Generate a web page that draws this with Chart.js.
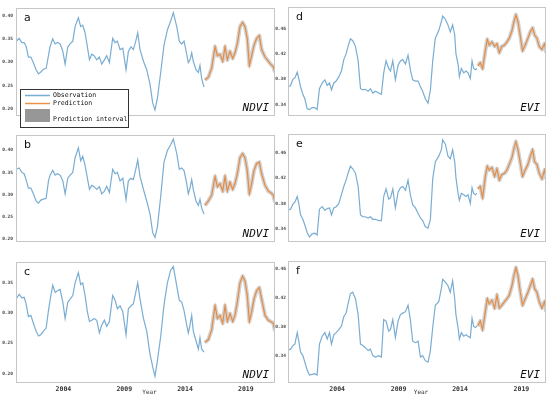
<!DOCTYPE html>
<html>
<head>
<meta charset="utf-8">
<script src="https://cdn.jsdelivr.net/npm/chart.js@4/dist/chart.umd.min.js"></script>
<style>
  body { margin: 0; background: #fff; width: 550px; height: 397px; position: relative; overflow: hidden; }
  canvas { position: absolute; }
</style>
</head>
<body>
<script>
// ---- data ----
const leftObsYears = [2000.11,2000.36,2000.58,2000.77,2000.93,2001.12,2001.32,2001.53,2001.75,2001.95,
  2002.14,2002.36,2002.58,2002.77,2002.90,2003.12,2003.32,2003.51,2003.73,2003.95,
  2004.14,2004.36,2004.55,2004.77,2004.96,2005.23,2005.42,2005.59,2005.78,2005.97,
  2006.14,2006.33,2006.52,2006.74,2006.96,2007.15,2007.37,2007.56,2007.78,2008.05,
  2008.25,2008.44,2008.66,2008.88,2009.15,2009.34,2009.56,2009.75,2009.95,2010.11,
  2010.30,2010.58,2010.85,2011.12,2011.34,2011.53,2011.73,2012.00,2012.27,2012.55,
  2012.82,2013.04,2013.32,2013.53,2013.73,2013.92,2014.14,2014.27,2014.41,2014.55,
  2014.68,2014.90,2015.10,2015.23,2015.37,2015.56];
const leftPredYears = [2015.64,2015.92,2016.19,2016.47,2016.66,2016.88,2017.10,2017.29,2017.48,2017.70,
  2017.92,2018.11,2018.30,2018.52,2018.74,2018.93,2019.12,2019.29,2019.48,2019.67,
  2019.89,2020.11,2020.30,2020.58,2020.85,2021.04,2021.26,2021.40];

const ndviA_obs = [0.344,0.351,0.342,0.342,0.334,0.311,0.311,0.299,0.284,0.275,
  0.279,0.285,0.287,0.314,0.333,0.350,0.339,0.342,0.339,0.323,
  0.296,0.333,0.339,0.345,0.376,0.395,0.376,0.379,0.363,0.333,
  0.305,0.317,0.314,0.305,0.311,0.296,0.305,0.314,0.299,0.351,
  0.342,0.345,0.327,0.330,0.284,0.323,0.333,0.327,0.345,0.363,
  0.327,0.302,0.284,0.253,0.213,0.198,0.223,0.278,0.336,0.369,
  0.388,0.406,0.376,0.345,0.339,0.345,0.317,0.299,0.305,0.320,
  0.302,0.284,0.278,0.293,0.265,0.247];
const ndviA_pred = [0.262,0.268,0.287,0.333,0.314,0.317,0.302,0.333,0.305,0.323,0.308,0.320,0.339,0.376,
  0.385,0.376,0.351,0.293,0.314,0.336,0.351,0.357,0.327,0.311,0.302,0.296,0.290,0.278];

const ndviB_obs = [0.357,0.360,0.350,0.347,0.334,0.315,0.315,0.302,0.286,0.281,
  0.288,0.290,0.292,0.331,0.344,0.355,0.344,0.347,0.344,0.331,
  0.302,0.337,0.344,0.350,0.383,0.405,0.376,0.386,0.366,0.337,
  0.312,0.321,0.318,0.312,0.318,0.302,0.308,0.319,0.305,0.357,
  0.347,0.350,0.331,0.337,0.289,0.331,0.337,0.334,0.357,0.378,
  0.341,0.312,0.286,0.257,0.215,0.204,0.228,0.296,0.373,0.399,
  0.412,0.425,0.392,0.357,0.360,0.354,0.325,0.302,0.315,0.334,
  0.312,0.286,0.276,0.290,0.270,0.257];
const ndviB_pred = [0.276,0.286,0.299,0.341,0.318,0.325,0.308,0.341,0.308,0.328,0.312,0.325,0.347,0.383,
  0.392,0.383,0.354,0.302,0.325,0.354,0.370,0.373,0.347,0.321,0.308,0.305,0.299,0.283];

const ndviC_obs = [0.323,0.331,0.325,0.326,0.315,0.294,0.296,0.283,0.270,0.262,
  0.264,0.270,0.275,0.304,0.321,0.346,0.334,0.337,0.339,0.318,
  0.291,0.318,0.323,0.329,0.350,0.367,0.347,0.350,0.329,0.302,
  0.286,0.288,0.291,0.288,0.267,0.280,0.288,0.278,0.286,0.329,
  0.321,0.307,0.312,0.302,0.264,0.307,0.312,0.315,0.334,0.350,
  0.323,0.291,0.270,0.232,0.211,0.195,0.221,0.261,0.313,0.350,
  0.371,0.377,0.345,0.321,0.318,0.304,0.280,0.267,0.280,0.296,
  0.270,0.254,0.240,0.259,0.240,0.235];
const ndviC_pred = [0.251,0.256,0.272,0.312,0.291,0.296,0.283,0.312,0.286,0.299,0.286,0.296,0.318,0.350,
  0.361,0.353,0.329,0.286,0.302,0.323,0.337,0.342,0.323,0.296,0.288,0.286,0.283,0.270];

const rightObsYears = [2000.02,2000.21,2000.40,2000.56,2000.75,2000.88,2001.02,2001.21,2001.37,2001.56,
  2001.75,2001.97,2002.18,2002.37,2002.56,2002.78,2003.00,2003.19,2003.38,2003.54,
  2003.73,2003.92,2004.14,2004.35,2004.54,2004.73,2004.89,2005.08,2005.27,2005.49,
  2005.71,2005.90,2006.09,2006.30,2006.52,2006.71,2006.90,2007.12,2007.39,2007.60,
  2007.79,2007.98,2008.20,2008.34,2008.53,2008.74,2008.96,2009.15,2009.34,2009.56,
  2009.77,2009.96,2010.15,2010.37,2010.59,2010.78,2010.96,2011.18,2011.40,2011.59,
  2011.78,2011.99,2012.27,2012.48,2012.59,2012.81,2013.02,2013.21,2013.40,2013.57,
  2013.67,2013.84,2013.95,2014.11,2014.30,2014.49,2014.65,2014.84,2014.98,2015.11,
  2015.25,2015.38];
const rightPredYears = [2015.46,2015.65,2015.84,2016.06,2016.22,2016.38,2016.60,2016.82,2017.01,2017.20,
  2017.41,2017.63,2017.82,2018.01,2018.23,2018.39,2018.55,2018.72,2018.91,2019.09,
  2019.31,2019.53,2019.72,2019.91,2020.07,2020.26,2020.45,2020.67,2020.88,2021.02];

const eviD_obs = [0.368,0.370,0.380,0.382,0.391,0.381,0.368,0.356,0.349,0.333,
  0.332,0.335,0.335,0.332,0.365,0.374,0.379,0.370,0.374,0.363,
  0.374,0.377,0.384,0.393,0.411,0.420,0.432,0.444,0.441,0.432,
  0.409,0.365,0.363,0.364,0.361,0.365,0.358,0.361,0.358,0.356,
  0.390,0.409,0.397,0.393,0.409,0.379,0.402,0.409,0.411,0.404,
  0.418,0.395,0.379,0.377,0.377,0.368,0.361,0.349,0.342,0.363,
  0.409,0.445,0.457,0.471,0.480,0.475,0.466,0.455,0.466,0.450,
  0.420,0.404,0.384,0.397,0.390,0.393,0.390,0.381,0.409,0.397,
  0.395,0.397];
const eviD_pred = [0.401,0.406,0.397,0.425,0.443,0.434,0.439,0.432,0.436,0.422,0.432,0.434,0.439,0.445,0.457,
  0.471,0.482,0.471,0.448,0.425,0.434,0.445,0.455,0.461,0.450,0.445,0.432,0.427,0.436,0.422];

const eviE_obs = [0.370,0.371,0.379,0.382,0.391,0.380,0.362,0.355,0.346,0.334,
  0.327,0.332,0.333,0.330,0.371,0.375,0.369,0.372,0.373,0.362,
  0.373,0.375,0.380,0.394,0.407,0.417,0.428,0.439,0.435,0.428,
  0.407,0.362,0.359,0.359,0.357,0.359,0.355,0.355,0.353,0.353,
  0.391,0.403,0.387,0.389,0.403,0.373,0.398,0.405,0.407,0.401,
  0.417,0.394,0.378,0.373,0.364,0.357,0.353,0.343,0.341,0.355,
  0.419,0.446,0.455,0.465,0.481,0.474,0.455,0.451,0.465,0.446,
  0.421,0.396,0.385,0.396,0.394,0.391,0.394,0.380,0.405,0.396,
  0.394,0.396];
const eviE_pred = [0.403,0.407,0.389,0.423,0.439,0.433,0.437,0.423,0.435,0.417,0.426,0.428,0.433,0.442,0.453,
  0.467,0.478,0.465,0.444,0.423,0.433,0.442,0.455,0.465,0.446,0.442,0.428,0.419,0.433,0.419];

const eviF_obs = [0.348,0.349,0.354,0.356,0.372,0.360,0.345,0.340,0.331,0.320,
  0.313,0.314,0.315,0.313,0.356,0.367,0.372,0.363,0.372,0.356,
  0.369,0.372,0.376,0.381,0.394,0.399,0.412,0.426,0.428,0.419,
  0.397,0.356,0.354,0.351,0.347,0.349,0.340,0.338,0.340,0.338,
  0.390,0.388,0.374,0.376,0.390,0.365,0.388,0.397,0.399,0.401,
  0.410,0.390,0.360,0.358,0.360,0.338,0.340,0.333,0.331,0.347,
  0.379,0.410,0.415,0.433,0.446,0.442,0.437,0.428,0.444,0.419,
  0.397,0.379,0.363,0.372,0.367,0.369,0.367,0.365,0.392,0.381,
  0.379,0.381];
const eviF_pred = [0.381,0.388,0.376,0.401,0.419,0.412,0.417,0.406,0.424,0.406,0.410,0.415,0.419,0.424,0.437,
  0.451,0.462,0.451,0.428,0.410,0.419,0.428,0.437,0.446,0.433,0.428,0.415,0.406,0.415,0.401];

const yearTicks = [2004, 2009, 2014, 2019];
const ndviTicks = [0.20, 0.25, 0.30, 0.35, 0.40];
const eviTicks = [0.34, 0.38, 0.42, 0.46];

// ---- layout ----
const colGeom = [
  { areaLeft: 16, areaRight: 275, axisW: 16, xMin: 2000.1, xMax: 2021.4, obsYears: leftObsYears, predYears: leftPredYears },
  { areaLeft: 288, areaRight: 546, axisW: 13, xMin: 2000.0, xMax: 2021.0, obsYears: rightObsYears, predYears: rightPredYears },
];
const rowGeom = [
  { top: 4, bottom: 130 },
  { top: 131, bottom: 256 },
  { top: 258, bottom: 383 },
];

const panels = [
  { letter: "a", col: 0, row: 0, obs: ndviA_obs, pred: ndviA_pred, yMin: 0.185, yMax: 0.4165, ticks: ndviTicks, index: "NDVI", legend: true },
  { letter: "b", col: 0, row: 1, obs: ndviB_obs, pred: ndviB_pred, yMin: 0.194, yMax: 0.4346, ticks: ndviTicks, index: "NDVI" },
  { letter: "c", col: 0, row: 2, obs: ndviC_obs, pred: ndviC_pred, yMin: 0.184, yMax: 0.385, ticks: ndviTicks, index: "NDVI" },
  { letter: "d", col: 1, row: 0, obs: eviD_obs, pred: eviD_pred, yMin: 0.3217, yMax: 0.4948, ticks: eviTicks, index: "EVI" },
  { letter: "e", col: 1, row: 1, obs: eviE_obs, pred: eviE_pred, yMin: 0.319, yMax: 0.4906, ticks: eviTicks, index: "EVI" },
  { letter: "f", col: 1, row: 2, obs: eviF_obs, pred: eviF_pred, yMin: 0.302, yMax: 0.4718, ticks: eviTicks, index: "EVI" },
];

const obsColor = "rgba(31,119,180,0.6)";
const predColor = "rgba(232,128,45,0.85)";
const bandColor = "rgba(125,125,125,0.35)";
const mono = '"DejaVu Sans Mono", monospace';

const decoPlugin = {
  id: "deco",
  afterDraw(chart, args, opts) {
    const { ctx, chartArea: a } = chart;
    ctx.save();
    // frame
    ctx.strokeStyle = "#c6c6c6";
    ctx.lineWidth = 1;
    ctx.strokeRect(Math.round(a.left) + 0.5, Math.round(a.top) + 0.5,
      Math.round(a.right - a.left) - 1, Math.round(a.bottom - a.top) - 1);
    // panel letter
    ctx.fillStyle = "#111";
    ctx.font = '11px "DejaVu Sans", sans-serif';
    ctx.textAlign = "left";
    ctx.textBaseline = "alphabetic";
    ctx.fillText(opts.letter, a.left + 8, a.top + 13.5);
    // index name
    ctx.font = "italic 11px " + mono;
    ctx.textAlign = "right";
    ctx.fillText(opts.index, a.right - 6, a.bottom - 5);
    // axis title on the bottom row
    if (opts.showYear) {
      ctx.font = "6px " + mono;
      ctx.fillStyle = "#333";
      ctx.textAlign = "center";
      ctx.textBaseline = "middle";
      ctx.fillText("Year", (a.left + a.right) / 2 + 4, a.bottom + 9);
    }
    if (opts.legend) {
      ctx.fillStyle = "#fff";
      ctx.fillRect(20.5, 87.5, 108, 38);
      ctx.strokeStyle = "#333";
      ctx.strokeRect(20.5, 87.5, 108, 38);
      ctx.lineWidth = 1.5;
      ctx.strokeStyle = obsColor;
      ctx.beginPath(); ctx.moveTo(25, 93.5); ctx.lineTo(50, 93.5); ctx.stroke();
      ctx.strokeStyle = predColor;
      ctx.beginPath(); ctx.moveTo(25, 101.5); ctx.lineTo(50, 101.5); ctx.stroke();
      ctx.fillStyle = "rgba(125,125,125,0.8)";
      ctx.fillRect(25, 107, 25, 13);
      ctx.fillStyle = "#111";
      ctx.font = "6.5px " + mono;
      ctx.textAlign = "left";
      ctx.textBaseline = "middle";
      ctx.fillText("Observation", 53, 93.5);
      ctx.fillText("Prediction", 53, 101.5);
      ctx.fillText("Prediction interval", 53, 117.5);
    }
    ctx.restore();
  },
};

function pts(xs, ys) {
  return xs.map((x, i) => ({ x: x, y: ys[i] }));
}

panels.forEach((p) => {
  const cg = colGeom[p.col];
  const rg = rowGeom[p.row];
  const bottomRow = p.row === 2;
  const canvas = document.createElement("canvas");
  const left = cg.areaLeft - cg.axisW;
  const top = rg.top - 2;
  const width = cg.areaRight - left + 2;
  const height = bottomRow ? 397 - top : rg.bottom + 1 - top;
  canvas.width = width;
  canvas.height = height;
  canvas.style.left = left + "px";
  canvas.style.top = top + "px";
  canvas.style.width = width + "px";
  canvas.style.height = height + "px";
  document.body.appendChild(canvas);

  new Chart(canvas.getContext("2d"), {
    type: "line",
    data: {
      datasets: [
        { label: "Observation", data: pts(cg.obsYears, p.obs), borderColor: obsColor, borderWidth: 1.2, order: 2 },
        { label: "Prediction interval", data: pts(cg.predYears, p.pred), borderColor: bandColor, borderWidth: 4, borderJoinStyle: "round", order: 1 },
        { label: "Prediction", data: pts(cg.predYears, p.pred), borderColor: predColor, borderWidth: 1.2, order: 0 },
      ],
    },
    options: {
      responsive: false,
      animation: false,
      layout: { padding: { left: 0, top: 2, right: 2, bottom: bottomRow ? 0 : 1 } },
      elements: { point: { radius: 0 }, line: { tension: 0, fill: false } },
      plugins: {
        legend: { display: false },
        tooltip: { enabled: false },
        deco: { letter: p.letter, index: p.index, showYear: bottomRow, legend: !!p.legend },
      },
      scales: {
        x: {
          type: "linear",
          min: cg.xMin,
          max: cg.xMax,
          display: bottomRow,
          afterBuildTicks: (ax) => { ax.ticks = yearTicks.map((v) => ({ value: v })); },
          afterFit: (ax) => { ax.height = 14; },
          grid: { display: false, drawTicks: false },
          border: { display: false },
          ticks: {
            autoSkip: false, maxRotation: 0, padding: 2, color: "#333",
            font: { family: mono, size: 6.5, weight: "bold" },
            callback: (v) => String(v),
          },
        },
        y: {
          min: p.yMin,
          max: p.yMax,
          afterBuildTicks: (ax) => {
            ax.ticks = p.ticks.filter((v) => v >= ax.min && v <= ax.max).map((v) => ({ value: v }));
          },
          afterFit: (ax) => { ax.width = cg.axisW; },
          grid: { display: false, drawTicks: false },
          border: { display: false },
          ticks: {
            autoSkip: false, padding: p.col === 0 ? 3 : 2, color: "#444",
            font: { family: mono, size: 4.5, weight: "bold" },
            callback: (v) => v.toFixed(2),
          },
        },
      },
    },
    plugins: [decoPlugin],
  });
});
</script>
</body>
</html>
